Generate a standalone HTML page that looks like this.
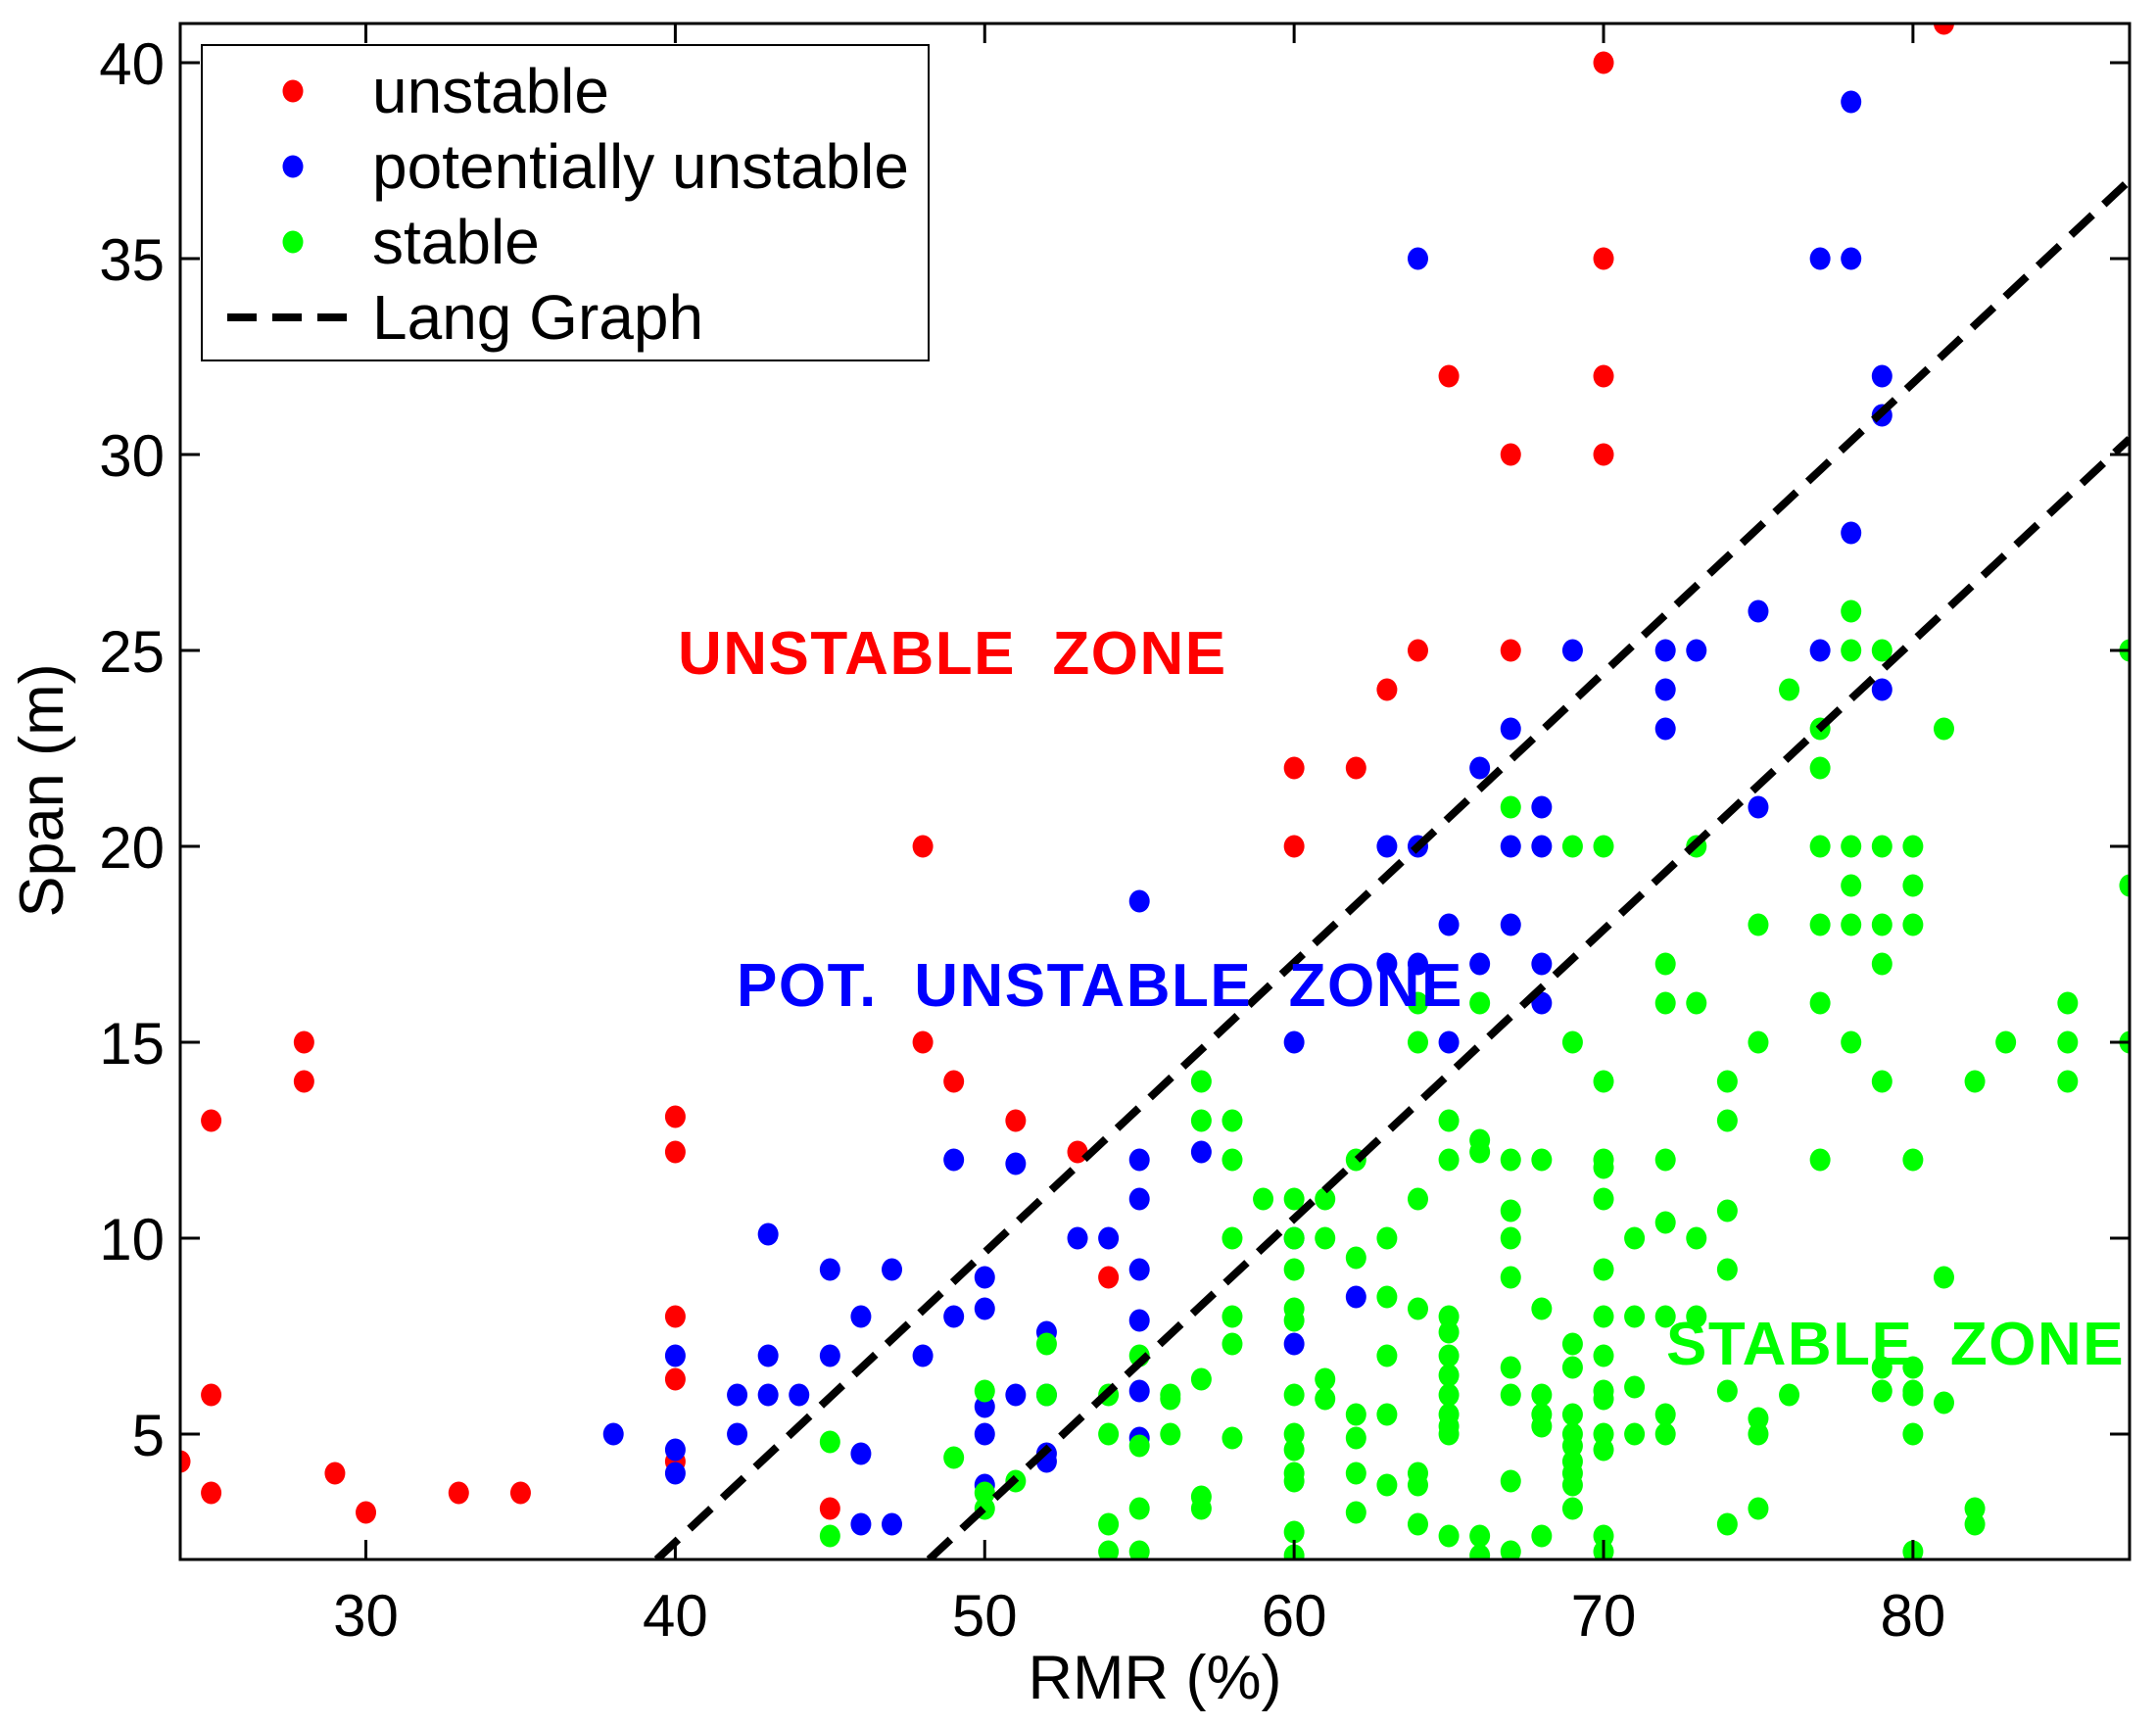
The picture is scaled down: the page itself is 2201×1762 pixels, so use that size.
<!DOCTYPE html>
<html><head><meta charset="utf-8"><style>
html,body{margin:0;padding:0;background:#fff;}
svg{display:block;font-family:"Liberation Sans",Arial,sans-serif;}
</style></head><body>
<svg id="chart" width="2201" height="1762" viewBox="0 0 2201 1762" xmlns="http://www.w3.org/2000/svg">
<defs><clipPath id="plotclip"><rect x="184" y="24" width="1990" height="1568"/></clipPath></defs>
<g id="marks" clip-path="url(#plotclip)"></g>
<g id="axes"></g>
</svg>
<script>
const xTicks = [30,40,50,60,70,80];
const yTicks = [5,10,15,20,25,30,35,40];
const unstable = [[24,4.3],[25,3.5],[25,6],[25,13],[28,15],[28,14],[29,4],[30,3],[33,3.5],[35,3.5],[40,13.1],[40,12.2],[40,8],[40,6.4],[40,4.3],[45,3.1],[48,20],[48,15],[49,14],[51,13],[53,12.2],[54,9],[60,22],[60,20],[62,22],[63,24],[64,25],[65,32],[67,30],[67,25],[70,40],[70,35],[70,32],[70,30],[81,41]];
const potUnstable = [[38,5],[40,7],[40,4.6],[40,4],[42,6],[42,5],[43,10.1],[43,7],[43,6],[44,6],[45,9.2],[45,7],[46,8],[46,4.5],[46,2.7],[47,9.2],[47,2.7],[48,7],[49,12],[49,8],[50,9],[50,8.2],[50,5.7],[50,5],[50,3.7],[51,11.9],[51,6],[52,7.6],[52,6],[52,4.5],[52,4.3],[53,10],[54,10],[55,18.6],[55,12],[55,11],[55,9.2],[55,7.9],[55,6.1],[55,4.9],[57,12.2],[60,15],[60,10],[60,7.3],[62,8.5],[63,20],[63,17],[64,35],[64,20],[64,17],[65,18],[65,15],[66,22],[66,17],[67,23],[67,20],[67,18],[68,21],[68,20],[68,17],[68,16],[69,25],[72,25],[72,24],[72,23],[73,25],[75,26],[75,21],[77,35],[77,25],[78,39],[78,35],[78,28],[79,32],[79,31],[79,24]];
const stable = [[45,4.8],[45,2.4],[49,4.4],[50,6.1],[50,3.5],[50,3.1],[51,3.8],[52,7.3],[52,6],[54,6],[54,5],[54,2.7],[54,2],[55,7],[55,4.7],[55,3.1],[55,2],[56,6],[56,5.9],[56,5],[57,14],[57,13],[57,6.4],[57,3.4],[57,3.1],[58,13],[58,12],[58,10],[58,8],[58,7.3],[58,4.9],[59,11],[60,11],[60,10],[60,9.2],[60,8.2],[60,7.9],[60,6],[60,5],[60,4.6],[60,4],[60,3.8],[60,2.5],[60,1.9],[61,11],[61,10],[61,6.4],[61,5.9],[62,12],[62,9.5],[62,5.5],[62,4.9],[62,4],[62,3],[63,10],[63,8.5],[63,7],[63,5.5],[63,3.7],[64,16],[64,15],[64,11],[64,8.2],[64,4],[64,3.7],[64,2.7],[65,13],[65,12],[65,8],[65,7.6],[65,7],[65,6.5],[65,6],[65,5.5],[65,5.2],[65,5],[65,2.4],[66,16],[66,12.5],[66,12.2],[66,2.4],[66,1.9],[67,21],[67,12],[67,10.7],[67,10],[67,9],[67,6.7],[67,6],[67,3.8],[67,2],[68,12],[68,8.2],[68,6],[68,5.5],[68,5.2],[68,2.4],[69,20],[69,15],[69,7.3],[69,6.7],[69,5.5],[69,5],[69,4.7],[69,4.3],[69,4],[69,3.7],[69,3.1],[70,20],[70,14],[70,12],[70,11.8],[70,11],[70,9.2],[70,8],[70,7],[70,6.1],[70,5.9],[70,5],[70,4.6],[70,2.4],[70,2],[71,10],[71,8],[71,6.2],[71,5],[72,17],[72,16],[72,12],[72,10.4],[72,8],[72,5.5],[72,5],[73,20],[73,16],[73,10],[73,8],[74,14],[74,13],[74,10.7],[74,9.2],[74,6.1],[74,2.7],[75,18],[75,15],[75,5.4],[75,5],[75,3.1],[76,24],[76,6],[77,23],[77,22],[77,20],[77,18],[77,16],[77,12],[78,26],[78,25],[78,20],[78,19],[78,18],[78,15],[79,25],[79,20],[79,18],[79,17],[79,14],[79,6.7],[79,6.1],[80,20],[80,19],[80,18],[80,12],[80,6.7],[80,6.1],[80,6],[80,5],[80,2],[81,23],[81,9],[81,5.8],[82,14],[82,3.1],[82,2.7],[83,15],[85,16],[85,15],[85,14],[87,25],[87,19],[87,15]];
const langUpper = [[39.4,1.8],[87,37]];
const langLower = [[48.2,1.8],[87,30.4]];

const X0=184,X1=2174,Y0=24,Y1=1592, xmin=24,xmax=87,ymin=1.8,ymax=41;
const sx=v=>X0+(v-xmin)/(xmax-xmin)*(X1-X0);
const sy=v=>Y1-(v-ymin)/(ymax-ymin)*(Y1-Y0);
const NS='http://www.w3.org/2000/svg';
function mk(tag,attrs,parent,text){const e=document.createElementNS(NS,tag);for(const k in attrs)e.setAttribute(k,attrs[k]);if(text!==undefined)e.textContent=text;parent.appendChild(e);return e;}
const marks=document.getElementById('marks'), axes=document.getElementById('axes'), svg=document.getElementById('chart');

function series(data,color,name){
  const g=mk('g',{},marks);
  
  
  data.forEach(d=>{
    const c=mk('ellipse',{cx:sx(d[0]),cy:sy(d[1]),rx:10.5,ry:11.5,fill:color},g);
    
    
  });
}
series(unstable,'#ff0000','unstable');
series(potUnstable,'#0000ff','potentially-unstable');
series(stable,'#00ff00','stable');
[[langUpper,'lang-upper-line'],[langLower,'lang-lower-line']].forEach(([L,n])=>{
  const l=mk('line',{x1:sx(L[0][0]),y1:sy(L[0][1]),x2:sx(L[1][0]),y2:sy(L[1][1]),stroke:'#000','stroke-width':8,'stroke-dasharray':'30 16'},marks);
  
  
});
[['UNSTABLE  ZONE','#ff0000',692,688,'unstable-zone-label'],['POT.  UNSTABLE  ZONE','#0000ff',752,1027,'pot-unstable-zone-label'],['STABLE  ZONE','#00ff00',1701,1393,'stable-zone-label']].forEach(z=>{
  const t=mk('text',{x:z[2],y:z[3],fill:z[1],'font-size':62,'font-weight':'bold','letter-spacing':1.5,style:'white-space:pre'},svg,z[0]);
  
  
});
const fr=mk('rect',{x:X0,y:Y0,width:X1-X0,height:Y1-Y0,fill:'none',stroke:'#000','stroke-width':3},axes);


xTicks.forEach(v=>{
  const x=sx(v);
  mk('line',{x1:x,y1:Y1,x2:x,y2:Y1-20,stroke:'#000','stroke-width':3},axes);
  mk('line',{x1:x,y1:Y0,x2:x,y2:Y0+20,stroke:'#000','stroke-width':3},axes);
  const t=mk('text',{x:x,y:1670,'font-size':60,'text-anchor':'middle'},axes,String(v));
  
  
});
yTicks.forEach(v=>{
  const y=sy(v);
  mk('line',{x1:X0,y1:y,x2:X0+20,y2:y,stroke:'#000','stroke-width':3},axes);
  mk('line',{x1:X1,y1:y,x2:X1-20,y2:y,stroke:'#000','stroke-width':3},axes);
  const t=mk('text',{x:168,y:y+22,'font-size':60,'text-anchor':'end'},axes,String(v));
  
  
});
const xt=mk('text',{x:1179,y:1734,'font-size':63,'text-anchor':'middle'},axes,'RMR (%)');


const yt=mk('text',{x:0,y:0,'font-size':63,'text-anchor':'middle',transform:'translate(64,807) rotate(-90)'},axes,'Span (m)');


const lg=mk('g',{},svg);


mk('rect',{x:206,y:46,width:742,height:322,fill:'#fff',stroke:'#000','stroke-width':2},lg);
[['unstable','#ff0000',93],['potentially unstable','#0000ff',170],['stable','#00ff00',247]].forEach(e=>{
  const c=mk('ellipse',{cx:299,cy:e[2],rx:10.5,ry:11.5,fill:e[1]},lg);
  
  
  const t=mk('text',{x:380,y:e[2]+22,'font-size':64},lg,e[0]);
  
  
});
const ll=mk('line',{x1:232,y1:324,x2:368,y2:324,stroke:'#000','stroke-width':8,'stroke-dasharray':'30 16'},lg);


const lt=mk('text',{x:380,y:346,'font-size':64},lg,'Lang Graph');


</script>
</body></html>
